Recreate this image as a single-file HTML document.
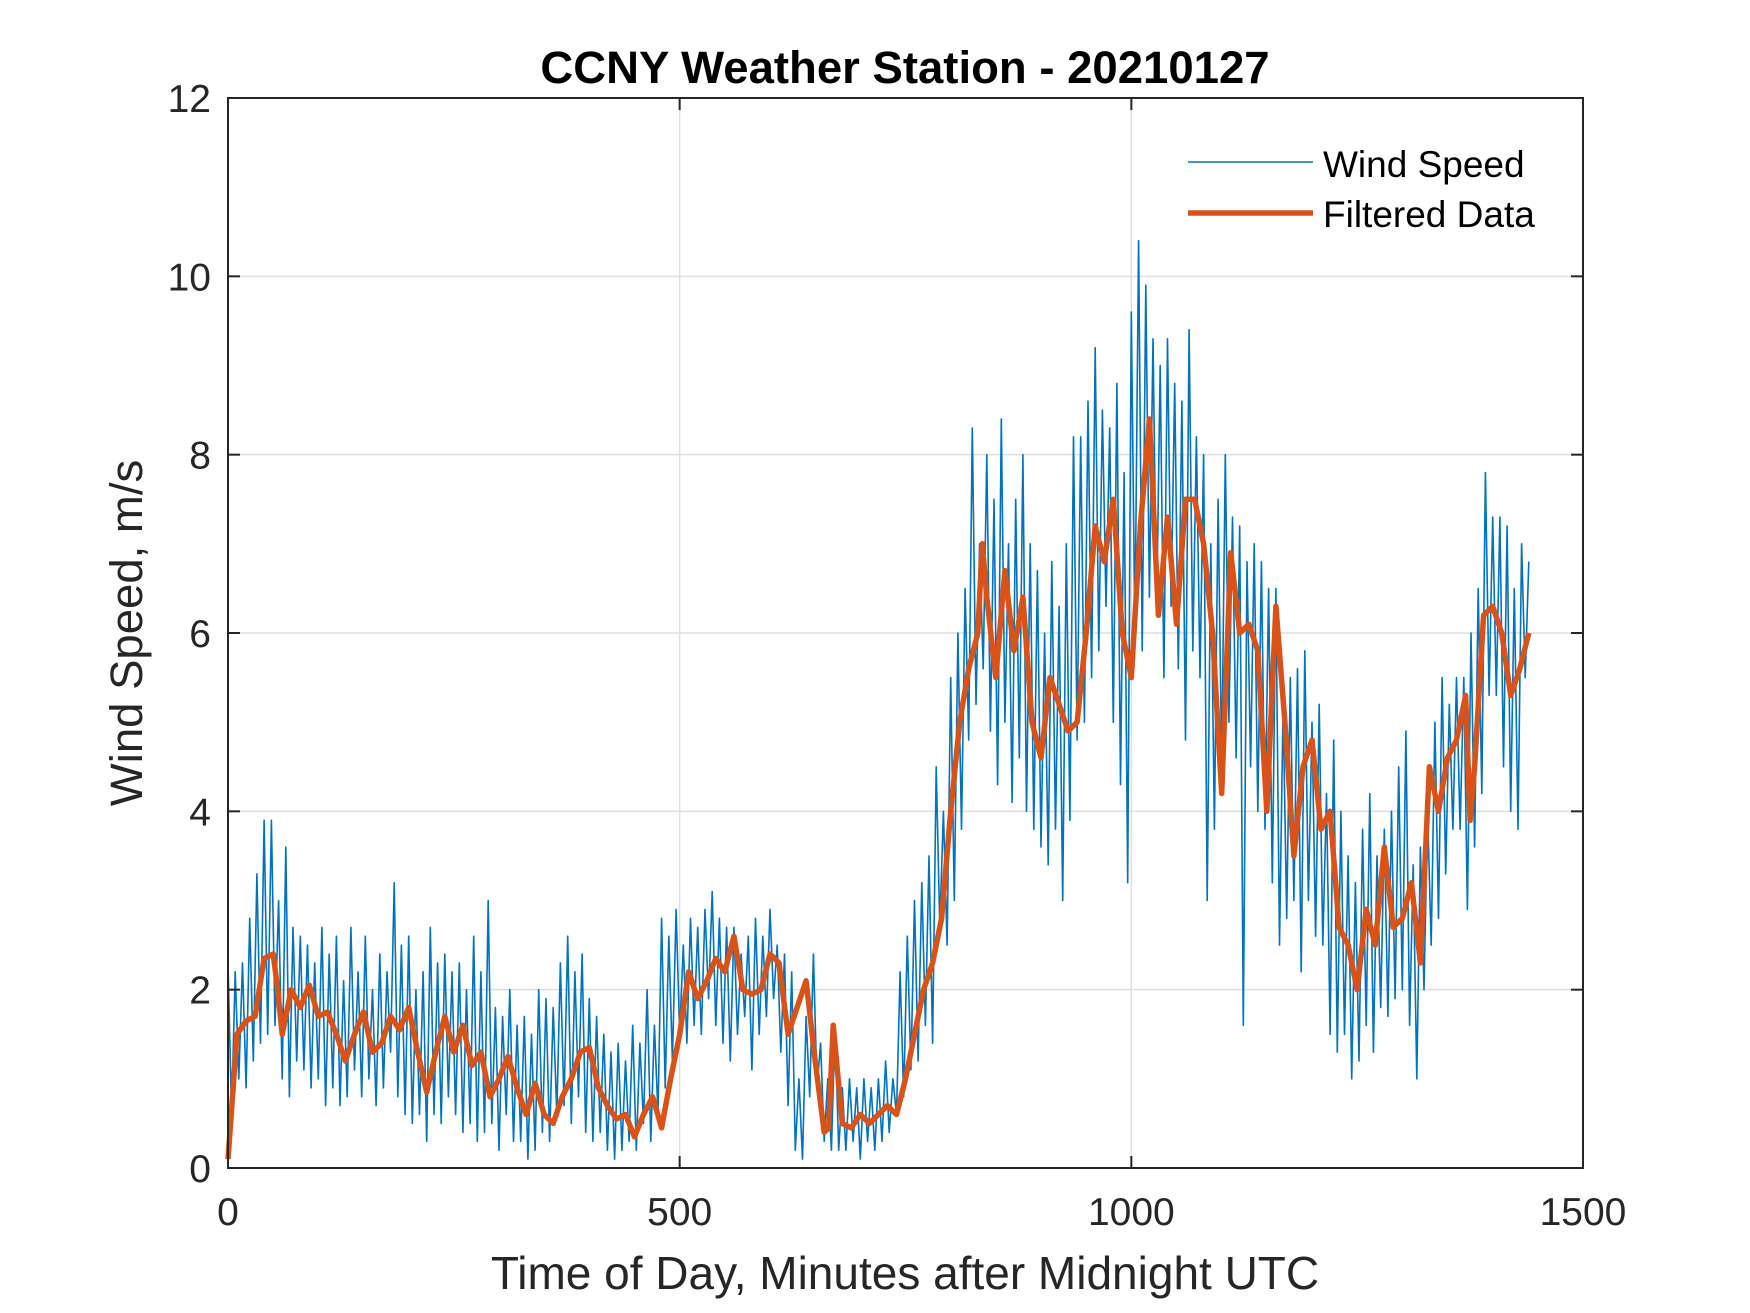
<!DOCTYPE html>
<html><head><meta charset="utf-8"><style>
html,body{margin:0;padding:0;background:#fff;}
svg{display:block;font-family:"Liberation Sans",Arial,sans-serif;}
</style></head><body>
<svg id="chart" width="1750" height="1313" viewBox="0 0 1750 1313" xmlns="http://www.w3.org/2000/svg">
<rect width="1750" height="1313" fill="#fff"/>
<g id="grid"></g>
<g id="series"></g>
<rect x="228" y="98" width="1355" height="1070" fill="none" stroke="#262626" stroke-width="2"/>
<g id="ticks"></g>
<text x="905" y="83" text-anchor="middle" font-size="45.5" font-weight="bold" fill="#000">CCNY Weather Station - 20210127</text>
<text x="905" y="1289" text-anchor="middle" font-size="46" fill="#262626">Time of Day, Minutes after Midnight UTC</text>
<text transform="translate(142,633) rotate(-90)" text-anchor="middle" font-size="45.5" fill="#262626">Wind Speed, m/s</text>
<g>
<line x1="1188" y1="162" x2="1313" y2="162" stroke="#0072BD" stroke-width="1.6"/>
<text x="1323" y="177" font-size="37" fill="#000">Wind Speed</text>
<line x1="1188" y1="213" x2="1313" y2="213" stroke="#D95319" stroke-width="5.5"/>
<text x="1323" y="227" font-size="37" fill="#000">Filtered Data</text>
</g>
</svg>
<script>
const xTicks=[0,500,1000,1500];
const yTicks=[0,2,4,6,8,10,12];
const windStep=4;
const windValues=[
2.3,0.6,2.2,1.0,2.3,0.9,2.8,1.2,3.3,1.4,
3.9,1.5,3.9,1.6,3.0,1.0,3.6,0.8,2.7,1.2,
2.6,1.1,2.5,0.9,2.3,1.0,2.7,0.7,2.4,0.9,
2.6,0.7,2.1,0.8,2.7,1.1,2.2,0.8,2.6,1.0,
2.0,0.7,2.4,0.9,2.2,1.3,3.2,0.8,2.5,0.6,
2.6,0.5,2.0,0.6,2.2,0.3,2.7,0.6,2.3,0.5,
2.4,0.8,2.2,0.6,2.3,0.4,2.0,0.5,2.6,0.3,
2.2,0.4,3.0,0.5,1.8,0.2,1.7,0.6,2.0,0.3,
1.6,0.3,1.7,0.1,1.5,0.2,2.0,0.4,1.9,0.3,
1.8,0.6,2.3,0.7,2.6,0.5,2.2,0.8,2.4,0.4,
1.9,0.3,1.7,0.4,1.5,0.2,1.3,0.1,1.4,0.2,
1.2,0.3,1.6,0.2,1.4,0.5,2.0,0.3,1.6,0.6,
2.8,0.9,2.6,1.2,2.9,1.5,2.5,1.4,2.8,1.6,
2.7,1.5,2.9,1.9,3.1,1.6,2.8,1.4,2.7,1.2,
2.7,1.5,2.4,1.7,2.6,1.1,2.8,1.5,2.6,1.7,
2.9,1.9,2.5,1.3,2.4,0.7,2.2,0.2,1.0,0.1,
1.7,0.8,2.4,0.9,1.4,0.3,1.0,0.2,1.6,0.2,
0.9,0.2,1.0,0.3,0.9,0.1,1.0,0.3,0.9,0.2,
1.0,0.3,1.2,0.4,1.0,0.6,2.2,0.8,2.6,1.1,
3.0,1.2,3.2,1.6,3.5,1.4,4.5,2.7,4.0,2.5,
5.5,3.0,6.0,3.8,6.5,4.8,8.3,5.2,7.0,5.6,
8.0,4.9,7.5,4.3,8.4,5.0,7.0,4.1,7.5,4.6,
8.0,4.0,7.0,3.8,6.7,3.6,6.0,3.4,6.8,3.8,
6.3,3.0,7.0,3.9,8.2,4.8,8.2,5.0,8.6,5.5,
9.2,5.8,8.5,6.3,8.3,5.0,8.8,4.3,7.8,3.2,
9.6,6.0,10.4,5.8,9.9,6.4,9.3,6.2,9.0,5.5,
9.3,6.3,8.8,5.6,8.6,4.8,9.4,5.8,8.2,5.5,
8.0,3.0,7.0,3.8,7.5,4.5,8.0,5.0,7.3,4.6,
7.2,1.6,6.8,4.5,7.0,4.0,6.8,3.8,6.5,3.2,
6.5,2.5,5.2,2.8,5.5,3.0,5.6,2.2,5.8,3.0,
5.0,2.6,5.2,2.5,4.2,1.5,4.8,1.3,4.0,1.5,
3.5,1.0,3.2,1.2,3.8,1.6,4.2,1.3,3.5,1.8,
3.8,1.7,4.0,1.9,4.5,2.0,4.9,1.6,3.4,1.0,
3.6,2.0,4.0,2.5,5.0,2.8,5.5,3.3,5.2,3.8,
5.5,3.8,5.5,2.9,6.0,3.6,6.5,4.2,7.8,5.3,
7.3,5.3,7.3,4.5,7.2,4.0,6.5,3.8,7.0,5.5,
6.8];
const filtTimes=[0,5,10,20,30,40,50,55,60,70,80,90,100,110,120,130,140,150,160,170,180,190,200,210,220,230,240,250,260,270,280,290,300,310,320,330,340,350,360,370,380,390,400,410,420,430,440,450,460,470,480,490,500,510,520,530,540,550,560,570,580,590,600,610,620,630,640,650,660,665,670,680,690,700,710,720,730,740,750,760,770,780,790,800,810,820,830,835,840,850,860,870,880,890,900,910,920,930,940,950,960,970,980,990,1000,1010,1020,1030,1040,1050,1060,1070,1080,1090,1100,1110,1120,1130,1140,1150,1160,1170,1180,1190,1200,1210,1220,1230,1240,1250,1260,1270,1280,1290,1300,1310,1320,1330,1340,1350,1360,1370,1375,1380,1390,1400,1410,1420,1430,1440];
const filtValues=[0.1,0.8,1.5,1.65,1.7,2.35,2.4,2.0,1.5,2.0,1.8,2.05,1.7,1.75,1.5,1.2,1.5,1.75,1.3,1.4,1.7,1.55,1.8,1.3,0.85,1.3,1.7,1.3,1.6,1.15,1.3,0.8,1.0,1.25,0.9,0.6,0.95,0.6,0.5,0.8,1.0,1.3,1.35,0.9,0.7,0.55,0.6,0.35,0.6,0.8,0.45,1.0,1.5,2.2,1.9,2.1,2.35,2.2,2.6,2.0,1.95,2.0,2.4,2.3,1.5,1.8,2.1,1.2,0.4,0.45,1.6,0.5,0.45,0.6,0.5,0.6,0.7,0.6,1.0,1.5,2.0,2.3,2.8,4.0,5.0,5.6,6.0,7.0,6.4,5.5,6.7,5.8,6.4,5.0,4.6,5.5,5.2,4.9,5.0,6.0,7.2,6.8,7.5,6.0,5.5,7.2,8.4,6.2,7.3,6.1,7.5,7.5,7.0,6.0,4.2,6.9,6.0,6.1,5.8,4.0,6.3,5.0,3.5,4.5,4.8,3.8,4.0,2.7,2.5,2.0,2.9,2.5,3.6,2.7,2.8,3.2,2.3,4.5,4.0,4.6,4.8,5.3,3.9,4.5,6.2,6.3,6.0,5.3,5.6,6.0];

const NS='http://www.w3.org/2000/svg';
const L=228,R=1583,T=98,B=1168;
const xMin=0,xMax=1500,yMin=0,yMax=12;
function sx(v){return L+(v-xMin)/(xMax-xMin)*(R-L);}
function sy(v){return B-(v-yMin)/(yMax-yMin)*(B-T);}
function mk(tag,attrs,parent){const e=document.createElementNS(NS,tag);for(const k in attrs)e.setAttribute(k,attrs[k]);parent.appendChild(e);return e;}
const grid=document.getElementById('grid'),ticks=document.getElementById('ticks'),series=document.getElementById('series');
xTicks.forEach(t=>{
  const x=sx(t);
  if(t>xMin&&t<xMax){const g=mk('line',{x1:x,y1:T,x2:x,y2:B,stroke:'#dfdfdf','stroke-width':1.5},grid);
    
    }
  const a=mk('line',{x1:x,y1:B,x2:x,y2:B-12,stroke:'#262626','stroke-width':2},ticks);
  
  
  const b=mk('line',{x1:x,y1:T,x2:x,y2:T+12,stroke:'#262626','stroke-width':2},ticks);
  
  
  const tx=mk('text',{x:x,y:B+57,'text-anchor':'middle','font-size':39,fill:'#262626'},ticks);
  tx.textContent=t;
  
  
});
yTicks.forEach(t=>{
  const y=sy(t);
  if(t>yMin&&t<yMax){const g=mk('line',{x1:L,y1:y,x2:R,y2:y,stroke:'#dfdfdf','stroke-width':1.5},grid);
    
    }
  const a=mk('line',{x1:L,y1:y,x2:L+12,y2:y,stroke:'#262626','stroke-width':2},ticks);
  
  
  const b=mk('line',{x1:R,y1:y,x2:R-12,y2:y,stroke:'#262626','stroke-width':2},ticks);
  
  
  const tx=mk('text',{x:L-17,y:y+14,'text-anchor':'end','font-size':39,fill:'#262626'},ticks);
  tx.textContent=t;
  
  
});
const wp=windValues.map((v,i)=>sx(i*windStep).toFixed(1)+','+sy(v).toFixed(1)).join(' ');
const w=mk('polyline',{points:wp,fill:'none',stroke:'#0072BD','stroke-width':1.6,'stroke-linejoin':'round'},series);


const fp=filtValues.map((v,i)=>sx(filtTimes[i]).toFixed(1)+','+sy(v).toFixed(1)).join(' ');
const f=mk('polyline',{points:fp,fill:'none',stroke:'#D95319','stroke-width':5.5,'stroke-linejoin':'round'},series);


</script>
</body></html>
